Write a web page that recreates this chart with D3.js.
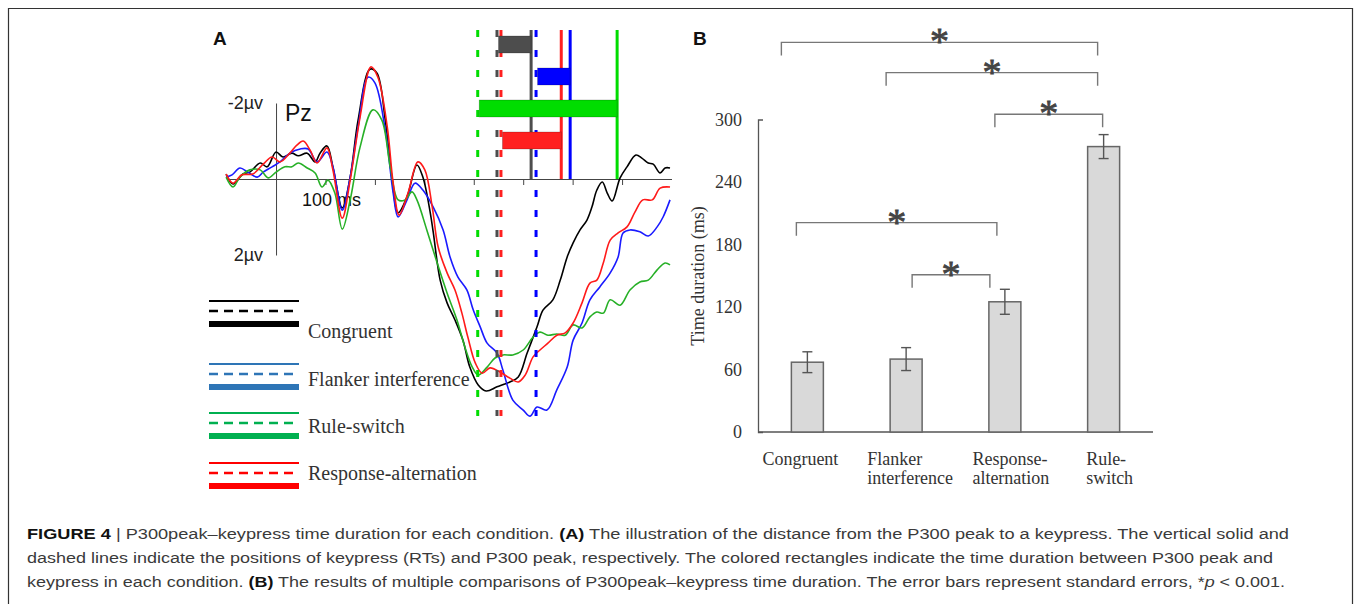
<!DOCTYPE html>
<html lang="en">
<head>
<meta charset="UTF-8">
<title>Figure 4</title>
<style>
  body { margin: 0; background: #fff; }
  svg { display: block; }
</style>
</head>
<body>
<svg id="fig" width="1355" height="604"></svg>
<script src="https://cdnjs.cloudflare.com/ajax/libs/d3/7.8.5/d3.min.js"></script>
<script>
// ---- panel A data: ERP at Pz, time (ms) / amplitude (uV, negative up) ----
const conditions = ['Congruent', 'Flanker interference', 'Rule-switch', 'Response-alternation'];
const p300Peak = [447, 526, 408, 455];   // ms, dashed lines
const keypressRT = [516, 595, 690, 577]; // ms, solid lines

const congruentWave = [[-101,-0.13],[-87,0.13],[-67,-0.13],[-53,-0.18],[-32,-0.42],[-18,-0.32],[0,-0.71],[14,-0.58],[32,-0.68],[45,-0.61],[63,-0.68],[79,-0.45],[89,-0.68],[103,-0.87],[115,-0.32],[134,0.76],[150,-0.05],[166,-1.55],[190,-2.89],[204,-2.79],[221,-1.55],[235,0.03],[247,0.89],[265,0.47],[285,-0.37],[297,-0.05],[312,0.89],[318,1.4],[332,2.66],[346,3.26],[362,3.71],[378,4.24],[392,4.95],[409,5.42],[425,5.58],[447,5.47],[473,5.34],[490,5.21],[508,4.58],[528,3.89],[540,3.45],[560,3.18],[575,2.66],[589,2.05],[601,1.68],[615,1.34],[629,1.08],[639,0.74],[649,0.29],[660,0.08],[670,0.37],[680,0.58],[696,-0.03],[710,-0.32],[728,-0.63],[740,-0.55],[753,-0.42],[763,-0.39],[777,-0.16],[787,-0.29],[797,-0.29]];
const flankerWave = [[-101,-0.05],[-89,-0.11],[-73,-0.29],[-57,-0.18],[-38,-0.05],[-26,-0.18],[-8,-0.32],[8,-0.45],[28,-0.68],[49,-0.79],[65,-0.79],[83,-0.45],[103,-0.71],[115,-0.32],[134,0.82],[150,-0.05],[166,-1.37],[186,-2.68],[200,-2.53],[221,-1.29],[237,0.37],[247,1.0],[265,0.55],[281,0.11],[297,0.29],[318,0.74],[338,1.34],[352,2.05],[368,2.58],[386,2.92],[399,3.45],[413,3.89],[427,4.32],[447,4.58],[459,5.03],[479,5.82],[500,6.08],[514,6.24],[528,6.0],[548,6.08],[568,5.55],[589,4.95],[601,4.24],[619,3.79],[635,3.18],[655,2.84],[676,2.47],[692,2.05],[702,1.42],[716,1.34],[736,1.39],[753,1.5],[771,1.26],[783,1.0],[797,0.55]];
const ruleSwitchWave = [[-101,-0.05],[-87,0.21],[-73,-0.05],[-53,-0.24],[-32,-0.24],[-16,-0.03],[0,-0.18],[18,-0.32],[32,-0.32],[45,-0.42],[63,-0.29],[79,-0.16],[93,0.21],[105,0.03],[119,0.37],[134,1.32],[150,0.55],[170,-0.84],[196,-1.82],[214,-1.55],[231,-0.32],[247,0.55],[261,0.55],[275,0.34],[285,0.55],[305,1.34],[326,2.21],[346,3.0],[366,3.71],[382,4.42],[397,4.95],[409,5.16],[427,4.95],[443,4.71],[459,4.63],[479,4.63],[500,4.5],[520,4.16],[534,4.03],[550,4.11],[568,4.08],[585,4.11],[601,3.84],[619,3.92],[635,3.63],[649,3.5],[662,3.53],[676,3.18],[696,3.32],[716,2.92],[736,2.71],[753,2.66],[771,2.39],[787,2.21],[797,2.26]];
const responseAltWave = [[-101,-0.13],[-87,0.11],[-69,-0.11],[-47,-0.13],[-26,-0.39],[-8,-0.58],[8,-0.45],[28,-0.68],[42,-0.89],[55,-1.0],[69,-0.76],[83,-0.42],[103,-0.82],[115,-0.24],[134,1.03],[150,0.03],[170,-1.63],[192,-2.95],[206,-2.68],[225,-1.37],[237,0.11],[249,0.95],[267,0.37],[287,-0.45],[301,-0.24],[316,0.74],[328,1.79],[346,2.47],[362,2.92],[376,3.53],[388,4.16],[403,4.84],[417,5.11],[433,4.97],[453,5.08],[473,5.24],[490,5.34],[504,5.16],[520,4.68],[534,4.5],[550,4.32],[568,4.11],[585,4.05],[601,3.79],[619,3.26],[635,2.74],[649,2.66],[662,2.21],[676,1.61],[692,1.42],[710,1.26],[726,0.87],[742,0.55],[761,0.55],[777,0.24],[797,0.21]];
const xTicksA = [100, 200, 300, 400, 500, 600, 700];

// ---- panel B data ----
const bCategories = ['Congruent', 'Flanker interference', 'Response-alternation', 'Rule-switch'];
const bLabelLines = [['Congruent'], ['Flanker', 'interference'], ['Response-', 'alternation'], ['Rule-', 'switch']];
const bMeans = [67, 70, 125, 274];
const bSE = [10, 11, 12, 11.5];
const bTicks = [0, 60, 120, 180, 240, 300];
const bracketFrom = [0, 1, 2, 0, 1];
const bracketTo = [3, 3, 3, 2, 2];
const bracketLevel = [374, 345, 305, 201, 151];

const svg = d3.select('#fig');
svg.append('rect').attr('width', 1355).attr('height', 604).attr('fill', '#fff');

// frame around the figure
svg.append('path').attr('d', 'M8.5,604V8.5H1352.5V604').attr('fill', 'none').attr('stroke', '#333').attr('stroke-width', 1.2);

// ================= panel A =================
const xA = d3.scaleLinear().domain([-100, 800]).range([226.6, 671.5]);
const yA = d3.scaleLinear().domain([-2, 2]).range([103, 255]);
const waveColors = ['#000000', '#1a1aff', '#27b027', '#ff1a1a'];
const markColors = ['#4d4d4d', '#0000ff', '#00dd00', '#ff2020'];
const waves = [congruentWave, flankerWave, ruleSwitchWave, responseAltWave];

svg.append('text').attr('x', 213).attr('y', 45).text('A')
  .attr('font-family', 'Liberation Sans, Arial, sans-serif').attr('font-weight', 'bold').attr('font-size', 19).attr('fill', '#111');

const gA = svg.append('g');

const xAxisA = gA.append('g').attr('transform', `translate(0,${yA(0)})`)
  .call(d3.axisBottom(xA).tickValues(xTicksA).tickSizeInner(6).tickSizeOuter(0).tickFormat(''));
xAxisA.selectAll('path,line').attr('stroke', '#444');

const yAxisA = gA.append('g').attr('transform', `translate(${xA(0)},0)`)
  .call(d3.axisLeft(yA).tickValues([-2, 2]).tickSize(0).tickPadding(13)
    .tickFormat(d => (d < 0 ? '-2µv' : '2µv')));
yAxisA.select('.domain').attr('stroke', '#444');
yAxisA.selectAll('text').attr('font-family', 'Liberation Sans, Arial, sans-serif').attr('font-size', 18).attr('fill', '#222');

gA.append('text').attr('x', 285).attr('y', 121).text('Pz')
  .attr('font-family', 'Liberation Sans, Arial, sans-serif').attr('font-size', 23).attr('fill', '#111');
gA.append('text').attr('x', 302).attr('y', 206).text('100 ms')
  .attr('font-family', 'Liberation Sans, Arial, sans-serif').attr('font-size', 18).attr('fill', '#111');

const line = d3.line().x(d => xA(d[0])).y(d => yA(d[1])).curve(d3.curveCatmullRom);
gA.selectAll('path.wave').data(waves).join('path')
  .attr('class', 'wave')
  .attr('fill', 'none')
  .attr('stroke', (d, i) => waveColors[i])
  .attr('stroke-width', 1.6)
  .attr('d', line);

// dashed P300 peak lines, solid keypress lines
const lineTop = 30;
gA.selectAll('line.peak').data(p300Peak).join('line')
  .attr('class', 'peak')
  .attr('x1', d => xA(d)).attr('x2', d => xA(d))
  .attr('y1', lineTop).attr('y2', 416)
  .attr('stroke', (d, i) => markColors[i])
  .attr('stroke-width', 3)
  .attr('stroke-dasharray', '7,13');
gA.selectAll('line.rt').data(keypressRT).join('line')
  .attr('class', 'rt')
  .attr('x1', d => xA(d)).attr('x2', d => xA(d))
  .attr('y1', lineTop).attr('y2', yA(0))
  .attr('stroke', (d, i) => markColors[i])
  .attr('stroke-width', 3);

// duration rectangles
const barRowY = [36, 68, 100, 132];
gA.selectAll('rect.dur').data(conditions).join('rect')
  .attr('class', 'dur')
  .attr('x', (d, i) => xA(p300Peak[i]) + 1.5)
  .attr('width', (d, i) => xA(keypressRT[i]) - xA(p300Peak[i]) - 1.5)
  .attr('y', (d, i) => barRowY[i])
  .attr('height', 17)
  .attr('fill', (d, i) => markColors[i])
  .attr('stroke', 'rgba(0,0,0,0.25)')
  .attr('stroke-width', 0.8);

// legend
const legendColors = ['#000000', '#2e75b6', '#00b050', '#ff0000'];
const legendLineY = [301, 364, 413, 463];
const legendTextY = [338, 386, 433, 480];
const lg = gA.append('g');
conditions.forEach((c, i) => {
  const y = legendLineY[i];
  lg.append('line').attr('x1', 209).attr('x2', 299).attr('y1', y).attr('y2', y)
    .attr('stroke', legendColors[i]).attr('stroke-width', 2);
  lg.append('line').attr('x1', 209).attr('x2', 299).attr('y1', y + 10).attr('y2', y + 10)
    .attr('stroke', legendColors[i]).attr('stroke-width', 2.5).attr('stroke-dasharray', '9,6');
  lg.append('line').attr('x1', 209).attr('x2', 299).attr('y1', y + 23).attr('y2', y + 23)
    .attr('stroke', legendColors[i]).attr('stroke-width', 6);
  lg.append('text').attr('x', 308).attr('y', legendTextY[i]).text(c)
    .attr('font-family', 'Liberation Serif, Times New Roman, serif').attr('font-size', 20).attr('fill', '#333');
});

// ================= panel B =================
svg.append('text').attr('x', 693).attr('y', 45).text('B')
  .attr('font-family', 'Liberation Sans, Arial, sans-serif').attr('font-weight', 'bold').attr('font-size', 19).attr('fill', '#111');

const xB = d3.scaleBand().domain(bCategories).range([758, 1153]).paddingInner(0.676).paddingOuter(0.338);
const yB = d3.scaleLinear().domain([0, 300]).range([432, 119.5]);
const gB = svg.append('g');
const serif = 'Liberation Serif, Times New Roman, serif';

const yAxisB = gB.append('g').attr('transform', 'translate(758,0)')
  .call(d3.axisLeft(yB).tickValues(bTicks).tickSizeInner(0).tickSizeOuter(-5).tickPadding(16));
yAxisB.select('.domain').attr('stroke', '#555').attr('stroke-width', 1.3);
yAxisB.selectAll('text').attr('font-family', serif).attr('font-size', 18).attr('fill', '#333');

gB.append('line').attr('x1', 758).attr('x2', 1153).attr('y1', yB(0)).attr('y2', yB(0))
  .attr('stroke', '#555').attr('stroke-width', 1.3);

gB.append('text').attr('transform', 'translate(704,276) rotate(-90)')
  .attr('text-anchor', 'middle').text('Time duration (ms)')
  .attr('font-family', serif).attr('font-size', 18).attr('fill', '#333');

gB.selectAll('rect.bar').data(bCategories).join('rect')
  .attr('class', 'bar')
  .attr('x', d => xB(d)).attr('width', xB.bandwidth())
  .attr('y', (d, i) => yB(bMeans[i])).attr('height', (d, i) => yB(0) - yB(bMeans[i]))
  .attr('fill', '#d9d9d9').attr('stroke', '#666').attr('stroke-width', 1.5);

const cx = d => xB(d) + xB.bandwidth() / 2;
const eb = gB.selectAll('g.err').data(bCategories).join('g').attr('class', 'err')
  .attr('stroke', '#555').attr('stroke-width', 1.4);
eb.append('line').attr('x1', cx).attr('x2', cx)
  .attr('y1', (d, i) => yB(bMeans[i] + bSE[i])).attr('y2', (d, i) => yB(bMeans[i] - bSE[i]));
eb.append('line').attr('x1', d => cx(d) - 5).attr('x2', d => cx(d) + 5)
  .attr('y1', (d, i) => yB(bMeans[i] + bSE[i])).attr('y2', (d, i) => yB(bMeans[i] + bSE[i]));
eb.append('line').attr('x1', d => cx(d) - 5).attr('x2', d => cx(d) + 5)
  .attr('y1', (d, i) => yB(bMeans[i] - bSE[i])).attr('y2', (d, i) => yB(bMeans[i] - bSE[i]));

// category labels (left-aligned lines, block roughly centred under bar)
const labelShift = [-7, 4, 6, 6];
bCategories.forEach((c, i) => {
  const t = gB.append('text').attr('font-family', serif).attr('font-size', 18).attr('fill', '#333');
  bLabelLines[i].forEach((s, j) => {
    t.append('tspan').attr('y', 465 + j * 19).text(s);
  });
  const w = d3.max(t.selectAll('tspan').nodes(), n => n.getComputedTextLength());
  t.selectAll('tspan').attr('x', cx(c) - w / 2 + labelShift[i]);
});

// significance brackets
const bracketEnds = [[-26, -6], [-20, -6], [-10, -1], [-11, -8], [6, -15]];
bracketLevel.forEach((lv, i) => {
  const x1 = cx(bCategories[bracketFrom[i]]) + bracketEnds[i][0];
  const x2 = cx(bCategories[bracketTo[i]]) + bracketEnds[i][1];
  const y = yB(lv);
  gB.append('path').attr('d', `M${x1},${y + 13}V${y}H${x2}V${y + 13}`)
    .attr('fill', 'none').attr('stroke', '#777').attr('stroke-width', 1.4);
  gB.append('text').attr('x', (x1 + x2) / 2).attr('y', y + 12).attr('text-anchor', 'middle').text('*')
    .attr('font-family', serif).attr('font-size', 38).attr('fill', '#444')
    .attr('stroke', '#444').attr('stroke-width', 0.8);
});

// ================= caption =================
const cap = svg.append('g').attr('font-family', 'Liberation Sans, Arial, sans-serif').attr('font-size', 15.5).attr('fill', '#3a3a3a');
const capLines = [
  [['FIGURE 4', true], [' | P300peak–keypress time duration for each condition. ', false], ['(A)', true], [' The illustration of the distance from the P300 peak to a keypress. The vertical solid and', false]],
  [['dashed lines indicate the positions of keypress (RTs) and P300 peak, respectively. The colored rectangles indicate the time duration between P300 peak and', false]],
  [['keypress in each condition. ', false], ['(B)', true], [' The results of multiple comparisons of P300peak–keypress time duration. The error bars represent standard errors, *', false], ['p', 'i'], [' < 0.001.', false]]
];
const capY = [539, 563, 587];
const capLen = [1262, 1246, 1258];
capLines.forEach((parts, i) => {
  const t = cap.append('text').attr('x', 27).attr('y', capY[i])
    .attr('textLength', capLen[i]).attr('lengthAdjust', 'spacingAndGlyphs');
  parts.forEach(([s, b]) => {
    const ts = t.append('tspan').text(s);
    if (b === true) ts.attr('font-weight', 'bold').attr('fill', '#111');
    if (b === 'i') ts.attr('font-style', 'italic');
  });
});
</script>
</body>
</html>
